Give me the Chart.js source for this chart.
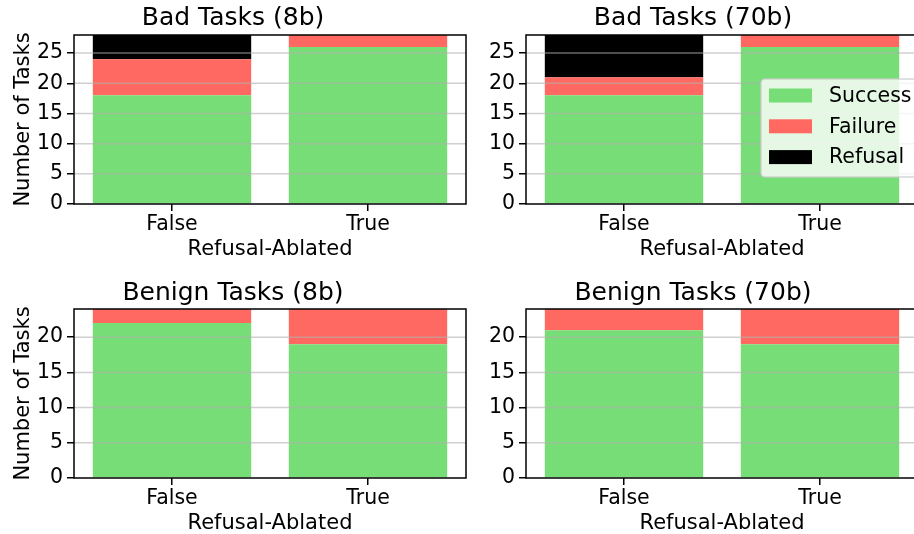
<!DOCTYPE html>
<html>
<head>
<meta charset="utf-8">
<script src="https://cdn.jsdelivr.net/npm/chart.js@4/dist/chart.umd.min.js"></script>
<style>
  html, body { margin: 0; padding: 0; background: #fff; overflow: hidden; }
  #figure { position: relative; width: 914px; height: 534px; overflow: hidden; background: #fff; }
  #figure canvas { position: absolute; }
</style>
</head>
<body>
<div id="figure">
  <canvas id="bad8b" width="468" height="260" style="left:0px;top:0px"></canvas>
  <canvas id="bad70b" width="452" height="260" style="left:468px;top:0px"></canvas>
  <canvas id="benign8b" width="468" height="274" style="left:0px;top:260px"></canvas>
  <canvas id="benign70b" width="452" height="274" style="left:468px;top:260px"></canvas>
</div>
<script>
// Task outcomes, with and without refusal ablation
const categories = ['False', 'True'];
const seriesNames = ['Success', 'Failure', 'Refusal'];
const seriesColors = ['#77dd77', '#ff6961', '#000000'];

const bad8bSuccess = [18, 26];
const bad8bFailure = [6, 2];
const bad8bRefusal = [4, 0];

const bad70bSuccess = [18, 26];
const bad70bFailure = [3, 2];
const bad70bRefusal = [7, 0];

const benign8bSuccess = [22, 19];
const benign8bFailure = [2, 5];
const benign8bRefusal = [0, 0];

const benign70bSuccess = [21, 19];
const benign70bFailure = [3, 5];
const benign70bRefusal = [0, 0];

const badTotal = 28;
const benignTotal = 24;
const yTickStep = 5;

const xAxisTitle = 'Refusal-Ablated';
const yAxisTitle = 'Number of Tasks';

const FONT = 'DejaVu Sans';
Chart.defaults.color = '#000';
Chart.defaults.font.family = FONT;

// Grid lines and the axes frame are painted over the bars
const frameOverlay = {
  id: 'frameOverlay',
  afterDatasetsDraw(chart) {
    const { ctx, chartArea: a, scales: { y } } = chart;
    ctx.save();
    ctx.strokeStyle = 'rgba(176,176,176,0.6)';
    ctx.lineWidth = 1.5;
    y.ticks.forEach(t => {
      if (t.value === 0) return;
      const py = y.getPixelForValue(t.value);
      ctx.beginPath();
      ctx.moveTo(a.left, py);
      ctx.lineTo(a.right, py);
      ctx.stroke();
    });
    ctx.strokeStyle = '#000';
    ctx.lineWidth = 1.5;
    ctx.strokeRect(a.left, a.top, a.width, a.height);
    ctx.restore();
  }
};

// Framed legend drawn inside the plotting area
const innerLegend = {
  id: 'innerLegend',
  afterDraw(chart, args, opts) {
    if (!opts.show) return;
    const { ctx, chartArea: a } = chart;
    const x0 = a.left + opts.dx, y0 = a.top + opts.dy;
    const w = opts.width, h = opts.height, r = 4;
    ctx.save();
    ctx.beginPath();
    ctx.roundRect(x0, y0, w, h, r);
    ctx.fillStyle = 'rgba(255,255,255,0.8)';
    ctx.fill();
    ctx.strokeStyle = 'rgba(204,204,204,0.8)';
    ctx.lineWidth = 1.5;
    ctx.stroke();
    ctx.font = '20.5px "' + FONT + '"';
    ctx.textBaseline = 'middle';
    ctx.textAlign = 'left';
    chart.data.datasets.forEach((ds, i) => {
      const cy = y0 + 16.5 + i * 30.8;
      ctx.fillStyle = ds.backgroundColor;
      ctx.fillRect(x0 + 8, cy - 7, 43, 14);
      ctx.fillStyle = '#000';
      ctx.fillText(ds.label, x0 + 68, cy + 1);
    });
    ctx.restore();
  }
};

function makeChart(id, title, values, total, opts) {
  const datasets = seriesNames.map((name, i) => ({
    label: name,
    data: values[i],
    backgroundColor: seriesColors[i],
    borderWidth: 0,
    barPercentage: 0.808,
    categoryPercentage: 1.0
  }));
  return new Chart(document.getElementById(id), {
    type: 'bar',
    data: { labels: categories, datasets },
    plugins: [frameOverlay, innerLegend],
    options: {
      responsive: false,
      animation: false,
      devicePixelRatio: 1,
      layout: { padding: { left: 0, right: 2, top: 0, bottom: 0 } },
      plugins: {
        legend: { display: false },
        tooltip: { enabled: false },
        title: {
          display: true,
          text: title,
          font: { size: 25, weight: 'normal', lineHeight: 1 },
          color: '#000',
          padding: { top: opts.titleTop, bottom: opts.titleBottom }
        },
        innerLegend: opts.legend || { show: false }
      },
      scales: {
        x: {
          stacked: true,
          offset: true,
          grid: {
            offset: false,
            drawOnChartArea: false,
            drawTicks: true,
            tickLength: 7,
            tickColor: '#000',
            lineWidth: 1.5
          },
          border: { display: false },
          ticks: { font: { size: 20.5 }, padding: 1, color: '#000', maxRotation: 0 },
          title: {
            display: true,
            text: xAxisTitle,
            font: { size: 21, lineHeight: 1 },
            color: '#000',
            padding: { top: 0, bottom: 0 }
          },
          afterFit(scale) { scale.height = 56; }
        },
        y: {
          stacked: true,
          min: 0,
          max: total,
          grid: {
            drawOnChartArea: false,
            drawTicks: true,
            tickLength: 7,
            tickColor: '#000',
            lineWidth: 1.5
          },
          border: { display: false },
          ticks: { stepSize: yTickStep, includeBounds: false, font: { size: 20.5 }, padding: 4, color: '#000' },
          title: {
            display: opts.yTitle,
            text: yAxisTitle,
            font: { size: 21, lineHeight: 1 },
            color: '#000',
            padding: { top: 13, bottom: 0 }
          },
          afterFit(scale) { scale.width = opts.yWidth; }
        }
      }
    }
  });
}

makeChart('bad8b', 'Bad Tasks (8b)', [bad8bSuccess, bad8bFailure, bad8bRefusal], badTotal,
  { titleTop: 6, titleBottom: 4, yWidth: 74, yTitle: true });
makeChart('bad70b', 'Bad Tasks (70b)', [bad70bSuccess, bad70bFailure, bad70bRefusal], badTotal,
  { titleTop: 6, titleBottom: 4, yWidth: 58, yTitle: false,
    legend: { show: true, dx: 235, dy: 44, width: 170, height: 98 } });
makeChart('benign8b', 'Benign Tasks (8b)', [benign8bSuccess, benign8bFailure, benign8bRefusal], benignTotal,
  { titleTop: 21, titleBottom: 3, yWidth: 74, yTitle: true });
makeChart('benign70b', 'Benign Tasks (70b)', [benign70bSuccess, benign70bFailure, benign70bRefusal], benignTotal,
  { titleTop: 21, titleBottom: 3, yWidth: 58, yTitle: false });
</script>
</body>
</html>
